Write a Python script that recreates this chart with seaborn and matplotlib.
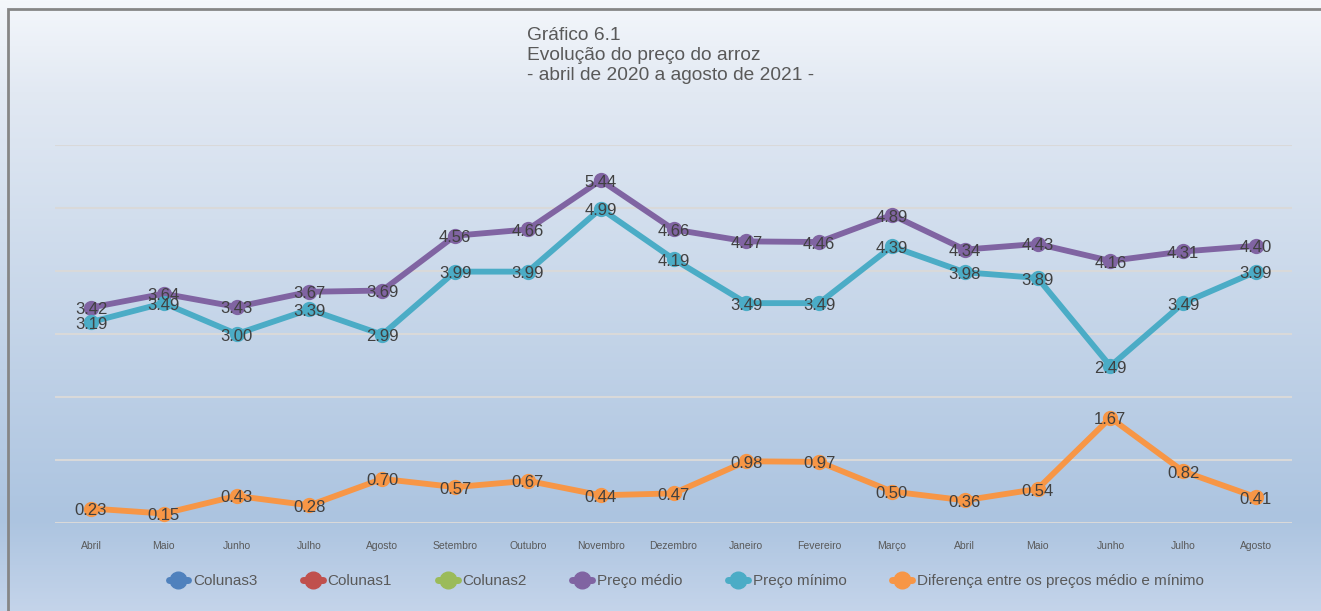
"""
Gráfico 6.1 - Evolução do preço do arroz (abril de 2020 a agosto de 2021)
"""

import numpy as np
import pandas as pd
import matplotlib.pyplot as plt
import seaborn as sns
from matplotlib.lines import Line2D
from matplotlib.patches import Rectangle

# Data
months = ['Abril', 'Maio', 'Junho', 'Julho', 'Agosto', 'Setembro', 'Outubro',
          'Novembro', 'Dezembro', 'Janeiro', 'Fevereiro', 'Março', 'Abril',
          'Maio', 'Junho', 'Julho', 'Agosto']
preco_medio = [3.42, 3.64, 3.43, 3.67, 3.69, 4.56, 4.66, 5.44, 4.66, 4.47,
               4.46, 4.89, 4.34, 4.43, 4.16, 4.31, 4.40]
preco_minimo = [3.19, 3.49, 3.00, 3.39, 2.99, 3.99, 3.99, 4.99, 4.19, 3.49,
                3.49, 4.39, 3.98, 3.89, 2.49, 3.49, 3.99]
diferenca = [0.23, 0.15, 0.43, 0.28, 0.70, 0.57, 0.67, 0.44, 0.47, 0.98,
             0.97, 0.50, 0.36, 0.54, 1.67, 0.82, 0.41]

series = {
    'Preço médio': (preco_medio, '#8064A2'),
    'Preço mínimo': (preco_minimo, '#4BACC6'),
    'Diferença entre os preços médio e mínimo': (diferenca, '#F79646'),
}
empty_series = {
    'Colunas3': '#4F81BD',
    'Colunas1': '#C0504D',
    'Colunas2': '#9BBB59',
}

sns.set_style('white')
plt.rcParams['font.family'] = ['Liberation Sans', 'DejaVu Sans']

fig = plt.figure(figsize=(13.21, 6.11), dpi=100)

# Background gradient
bg = fig.add_axes([0, 0, 1, 1], zorder=-2)
stops_y = [0.0, 0.15, 0.85, 1.0]
stops_c = np.array([[196, 212, 234], [172, 196, 224], [226, 233, 243], [244, 247, 251]]) / 255
yy = np.linspace(0, 1, 400)
grad = np.stack([np.interp(yy, stops_y, stops_c[:, k]) for k in range(3)], axis=-1)
bg.imshow(grad[:, None, :], aspect='auto', origin='lower', extent=[0, 1, 0, 1])
bg.set_xlim(0, 1)
bg.set_ylim(0, 1)
bg.axis('off')

# Outer frame (left/top visible)
fig.patches.append(Rectangle((8 / 1321, -0.1), 1.2, 1 - 9 / 611 + 0.1,
                             transform=fig.transFigure, fill=False,
                             edgecolor='#868686', lw=2, zorder=5))

ax = fig.add_axes([54.6 / 1321, 1 - 523 / 611, (1292.4 - 54.6) / 1321, (523 - 145) / 611])
ax.set_facecolor('none')

x = np.arange(len(months))
for name, (vals, color) in series.items():
    df = pd.DataFrame({'x': x, 'y': vals})
    sns.lineplot(data=df, x='x', y='y', ax=ax, color=color, lw=4.2,
                 marker='o', markersize=11, markeredgewidth=0, zorder=3)
    for xi, v in zip(x, vals):
        ax.annotate(f'{v:.2f}', (xi, v), xytext=(0, -1.5), textcoords='offset points',
                    ha='center', va='center', fontsize=12, color='#404040', zorder=4)

ax.set_xlim(-0.5, len(months) - 0.5)
ax.set_ylim(0, 6)
ax.set_yticks(range(0, 7))
ax.yaxis.grid(True, color='#D9D9D9', lw=1.5)
ax.set_axisbelow(True)
ax.set_yticklabels([])
ax.tick_params(axis='y', length=0)
ax.set_xticks(x)
ax.set_xticklabels(months, fontsize=7.5, color='#595959')
ax.tick_params(axis='x', length=0, pad=13)
ax.set_xlabel('')
ax.set_ylabel('')
for s in ax.spines.values():
    s.set_visible(False)

# Title
fig.text(527 / 1321, 1 - 27 / 611,
         'Gráfico 6.1\nEvolução do preço do arroz\n- abril de 2020 a agosto de 2021 -',
         ha='left', va='top', fontsize=13.8, color='#595959', linespacing=1.22)

# Legend
handles = []
labels = []
for name, color in empty_series.items():
    handles.append(Line2D([], [], color=color, lw=5, marker='o', markersize=12))
    labels.append(name)
for name, (vals, color) in series.items():
    handles.append(Line2D([], [], color=color, lw=5, marker='o', markersize=12))
    labels.append(name)
fig.legend(handles, labels, loc='center', bbox_to_anchor=(686 / 1321, 1 - 581 / 611),
           ncol=6, frameon=False, fontsize=11, labelcolor='#595959',
           handlelength=1.3, handletextpad=0.3, columnspacing=3.0)

fig.savefig('out.png', dpi=100)
